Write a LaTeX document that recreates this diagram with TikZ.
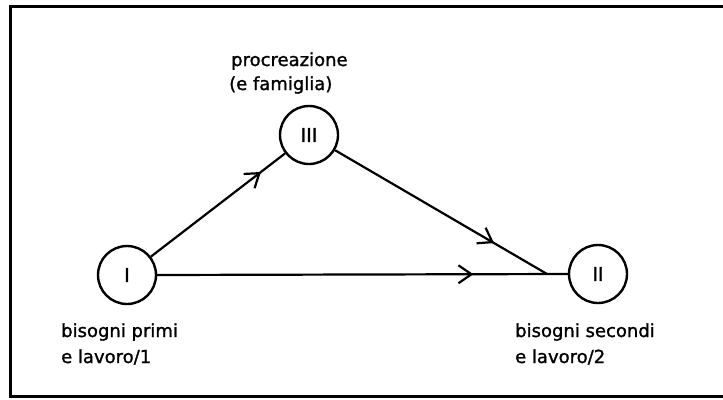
\documentclass[tikz,border=0pt]{standalone}
\usepackage{fontspec}
\setmainfont{DejaVu Sans}[FakeBold=1.3]
\usetikzlibrary{arrows.meta,decorations.markings}
\begin{document}
\begin{tikzpicture}[x=1pt,y=-1pt,
  state/.style={draw,circle,line width=2.4pt,minimum size=58pt,inner sep=0pt,
    font=\fontsize{19}{19}\selectfont},
  lbl/.style={anchor=base west,inner sep=0pt,font=\fontsize{18}{18}\selectfont},
  conn/.style={line width=2.2pt},
  midarrow/.style={postaction=decorate,decoration={markings,
    mark=at position #1 with {\arrow{Straight Barb[length=13pt,width=18pt,line width=2.2pt]}}}}]
\useasboundingbox (0,0) rectangle (723,399);
% frame
\draw[line width=3pt] (723,6) -- (10,6) -- (10,396) -- (723,396);
% nodes
\node[state] (I) at (127,275) {I};
\node[state] (II) at (598,274) {II};
\node[state] (III) at (309,135) {III};
\coordinate (join) at (547,274);
% labels
\node[lbl] (l3a) at (231,66) {procreazione};
\node[lbl] (l3b) at (229,90) {(e famiglia)};
\node[lbl] (l1a) at (61,337) {bisogni primi};
\node[lbl] (l1b) at (61,363) {e lavoro/1};
\node[lbl] (l2a) at (515,337) {bisogni secondi};
\node[lbl] (l2b) at (515,363) {e lavoro/2};
% connectors
\draw[conn,midarrow=0.82] (I) -- (III);
\draw[conn,midarrow=0.75] (III) -- (join);
\draw[conn,midarrow=0.77] (I.east) -- (II.west);
\end{tikzpicture}
\end{document}
